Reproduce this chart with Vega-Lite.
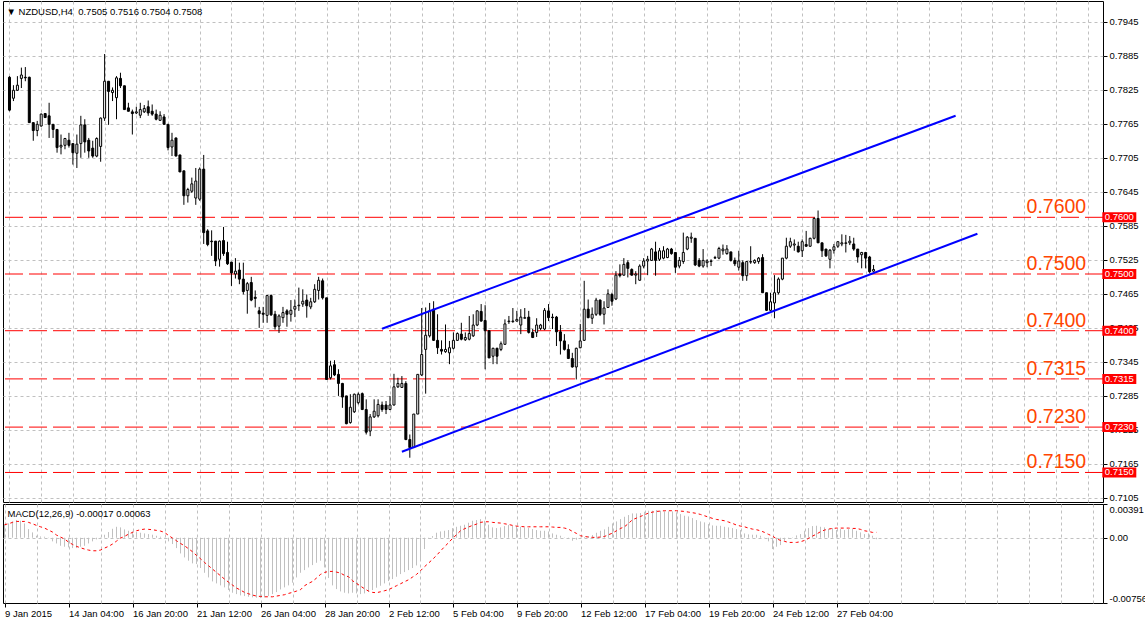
{
"$schema": "https://vega.github.io/schema/vega-lite/v6.json",
"padding": {"left": 2, "top": 0, "right": 0, "bottom": 0},
"background": "white",
"config": {
  "view": {"stroke": "black", "strokeWidth": 1},
  "font": "Liberation Sans",
  "axis": {"labelFont": "Liberation Sans", "labelFontSize": 9.5, "labelColor": "black", "tickColor": "black", "gridColor": "#c0c0c0", "gridDash": [3, 3], "gridWidth": 1, "domain": false, "title": null, "zindex": 0, "labelOverlap": false}
},
"datasets": {
"levels": [
{"p": 0.76, "t": "0.7600"}, {"p": 0.75, "t": "0.7500"}, {"p": 0.74, "t": "0.7400"}, {"p": 0.7315, "t": "0.7315"}, {"p": 0.723, "t": "0.7230"}, {"p": 0.715, "t": "0.7150"}
],
"channel": [
{"n": "up", "i": 94, "p": 0.74035}, {"n": "up", "i": 238.7, "p": 0.77792},
{"n": "lo", "i": 99, "p": 0.71866}, {"n": "lo", "i": 244.2, "p": 0.7571}
],
"bars": [
{"i":0,"o":0.7847,"h":0.7849,"l":0.7787,"c":0.7789,"m":0.00151,"s":0.00151},
{"i":1,"o":0.7810,"h":0.7833,"l":0.7805,"c":0.7824,"m":0.00166,"s":0.00162},
{"i":2,"o":0.7824,"h":0.7849,"l":0.7823,"c":0.7833,"m":0.00189,"s":0.00178},
{"i":3,"o":0.7845,"h":0.7864,"l":0.7828,"c":0.7851,"m":0.00205,"s":0.00189},
{"i":4,"o":0.7847,"h":0.7865,"l":0.7840,"c":0.7846,"m":0.00197,"s":0.00189},
{"i":5,"o":0.7847,"h":0.7848,"l":0.7767,"c":0.7767,"m":0.00166,"s":0.00189},
{"i":6,"o":0.7767,"h":0.7767,"l":0.7735,"c":0.7753,"m":0.00100,"s":0.00178},
{"i":7,"o":0.7753,"h":0.7770,"l":0.7743,"c":0.7764,"m":0.00062,"s":0.00162},
{"i":8,"o":0.7761,"h":0.7783,"l":0.7760,"c":0.7782,"m":0.00023,"s":0.00143},
{"i":9,"o":0.7783,"h":0.7784,"l":0.7775,"c":0.7776,"m":0.00015,"s":0.00127},
{"i":10,"o":0.7779,"h":0.7802,"l":0.7740,"c":0.7764,"m":0.00012,"s":0.00112},
{"i":11,"o":0.7764,"h":0.7764,"l":0.7740,"c":0.7755,"m":-0.00004,"s":0.00089},
{"i":12,"o":0.7755,"h":0.7755,"l":0.7714,"c":0.7723,"m":-0.00042,"s":0.00066},
{"i":13,"o":0.7724,"h":0.7746,"l":0.7711,"c":0.7727,"m":-0.00066,"s":0.00031},
{"i":14,"o":0.7727,"h":0.7740,"l":0.7720,"c":0.7739,"m":-0.00093,"s":0.00008},
{"i":15,"o":0.7736,"h":0.7749,"l":0.7723,"c":0.7727,"m":-0.00104,"s":-0.00015},
{"i":16,"o":0.7730,"h":0.7730,"l":0.7693,"c":0.7714,"m":-0.00112,"s":-0.00050},
{"i":17,"o":0.7713,"h":0.7746,"l":0.7687,"c":0.7729,"m":-0.00120,"s":-0.00077},
{"i":18,"o":0.7730,"h":0.7779,"l":0.7705,"c":0.7763,"m":-0.00120,"s":-0.00100},
{"i":19,"o":0.7763,"h":0.7773,"l":0.7714,"c":0.7733,"m":-0.00104,"s":-0.00116},
{"i":20,"o":0.7736,"h":0.7740,"l":0.7705,"c":0.7717,"m":-0.00093,"s":-0.00131},
{"i":21,"o":0.7722,"h":0.7735,"l":0.7705,"c":0.7708,"m":-0.00066,"s":-0.00143},
{"i":22,"o":0.7708,"h":0.7741,"l":0.7706,"c":0.7739,"m":-0.00042,"s":-0.00151},
{"i":23,"o":0.7725,"h":0.7776,"l":0.7698,"c":0.7775,"m":-0.00019,"s":-0.00151},
{"i":24,"o":0.7775,"h":0.7888,"l":0.7770,"c":0.7840,"m":0.00004,"s":-0.00143},
{"i":25,"o":0.7840,"h":0.7840,"l":0.7763,"c":0.7822,"m":0.00035,"s":-0.00120},
{"i":26,"o":0.7820,"h":0.7829,"l":0.7805,"c":0.7824,"m":0.00066,"s":-0.00100},
{"i":27,"o":0.7811,"h":0.7849,"l":0.7773,"c":0.7846,"m":0.00104,"s":-0.00073},
{"i":28,"o":0.7845,"h":0.7855,"l":0.7828,"c":0.7832,"m":0.00127,"s":-0.00039},
{"i":29,"o":0.7832,"h":0.7832,"l":0.7790,"c":0.7790,"m":0.00120,"s":-0.00004},
{"i":30,"o":0.7793,"h":0.7802,"l":0.7787,"c":0.7787,"m":0.00097,"s":0.00015},
{"i":31,"o":0.7786,"h":0.7790,"l":0.7746,"c":0.7783,"m":0.00081,"s":0.00042},
{"i":32,"o":0.7784,"h":0.7795,"l":0.7782,"c":0.7786,"m":0.00073,"s":0.00062},
{"i":33,"o":0.7780,"h":0.7802,"l":0.7775,"c":0.7790,"m":0.00066,"s":0.00081},
{"i":34,"o":0.7786,"h":0.7798,"l":0.7784,"c":0.7792,"m":0.00058,"s":0.00093},
{"i":35,"o":0.7795,"h":0.7806,"l":0.7779,"c":0.7784,"m":0.00050,"s":0.00100},
{"i":36,"o":0.7787,"h":0.7799,"l":0.7779,"c":0.7782,"m":0.00042,"s":0.00097},
{"i":37,"o":0.7782,"h":0.7790,"l":0.7771,"c":0.7773,"m":0.00035,"s":0.00093},
{"i":38,"o":0.7771,"h":0.7787,"l":0.7770,"c":0.7780,"m":0.00023,"s":0.00085},
{"i":39,"o":0.7777,"h":0.7782,"l":0.7764,"c":0.7764,"m":0.00012,"s":0.00077},
{"i":40,"o":0.7764,"h":0.7764,"l":0.7718,"c":0.7723,"m":-0.00012,"s":0.00062},
{"i":41,"o":0.7724,"h":0.7749,"l":0.7708,"c":0.7736,"m":-0.00042,"s":0.00027},
{"i":42,"o":0.7740,"h":0.7740,"l":0.7708,"c":0.7708,"m":-0.00073,"s":-0.00004},
{"i":43,"o":0.7710,"h":0.7710,"l":0.7680,"c":0.7680,"m":-0.00120,"s":-0.00035},
{"i":44,"o":0.7682,"h":0.7682,"l":0.7622,"c":0.7638,"m":-0.00182,"s":-0.00066},
{"i":45,"o":0.7638,"h":0.7652,"l":0.7626,"c":0.7649,"m":-0.00228,"s":-0.00093},
{"i":46,"o":0.7646,"h":0.7670,"l":0.7643,"c":0.7659,"m":-0.00266,"s":-0.00127},
{"i":47,"o":0.7634,"h":0.7687,"l":0.7622,"c":0.7664,"m":-0.00297,"s":-0.00162},
{"i":48,"o":0.7632,"h":0.7688,"l":0.7629,"c":0.7685,"m":-0.00305,"s":-0.00205},
{"i":49,"o":0.7685,"h":0.7710,"l":0.7553,"c":0.7573,"m":-0.00351,"s":-0.00243},
{"i":50,"o":0.7576,"h":0.7579,"l":0.7549,"c":0.7552,"m":-0.00406,"s":-0.00286},
{"i":51,"o":0.7558,"h":0.7577,"l":0.7532,"c":0.7557,"m":-0.00460,"s":-0.00324},
{"i":52,"o":0.7558,"h":0.7558,"l":0.7514,"c":0.7523,"m":-0.00506,"s":-0.00363},
{"i":53,"o":0.7526,"h":0.7559,"l":0.7513,"c":0.7558,"m":-0.00529,"s":-0.00402},
{"i":54,"o":0.7559,"h":0.7583,"l":0.7532,"c":0.7536,"m":-0.00552,"s":-0.00440},
{"i":55,"o":0.7538,"h":0.7557,"l":0.7516,"c":0.7518,"m":-0.00575,"s":-0.00479},
{"i":56,"o":0.7521,"h":0.7521,"l":0.7479,"c":0.7502,"m":-0.00606,"s":-0.00514},
{"i":57,"o":0.7500,"h":0.7528,"l":0.7492,"c":0.7505,"m":-0.00637,"s":-0.00548},
{"i":58,"o":0.7507,"h":0.7520,"l":0.7482,"c":0.7491,"m":-0.00653,"s":-0.00583},
{"i":59,"o":0.7491,"h":0.7520,"l":0.7464,"c":0.7469,"m":-0.00668,"s":-0.00606},
{"i":60,"o":0.7471,"h":0.7486,"l":0.7430,"c":0.7483,"m":-0.00676,"s":-0.00633},
{"i":61,"o":0.7485,"h":0.7495,"l":0.7452,"c":0.7454,"m":-0.00684,"s":-0.00649},
{"i":62,"o":0.7459,"h":0.7471,"l":0.7441,"c":0.7457,"m":-0.00691,"s":-0.00664},
{"i":63,"o":0.7435,"h":0.7442,"l":0.7405,"c":0.7430,"m":-0.00695,"s":-0.00676},
{"i":64,"o":0.7431,"h":0.7442,"l":0.7414,"c":0.7429,"m":-0.00699,"s":-0.00680},
{"i":65,"o":0.7427,"h":0.7463,"l":0.7414,"c":0.7462,"m":-0.00691,"s":-0.00684},
{"i":66,"o":0.7462,"h":0.7464,"l":0.7426,"c":0.7428,"m":-0.00676,"s":-0.00684},
{"i":67,"o":0.7429,"h":0.7435,"l":0.7402,"c":0.7407,"m":-0.00653,"s":-0.00684},
{"i":68,"o":0.7408,"h":0.7429,"l":0.7396,"c":0.7426,"m":-0.00630,"s":-0.00676},
{"i":69,"o":0.7423,"h":0.7442,"l":0.7414,"c":0.7432,"m":-0.00599,"s":-0.00668},
{"i":70,"o":0.7435,"h":0.7438,"l":0.7407,"c":0.7429,"m":-0.00575,"s":-0.00660},
{"i":71,"o":0.7429,"h":0.7454,"l":0.7416,"c":0.7436,"m":-0.00552,"s":-0.00645},
{"i":72,"o":0.7438,"h":0.7455,"l":0.7424,"c":0.7443,"m":-0.00521,"s":-0.00633},
{"i":73,"o":0.7444,"h":0.7476,"l":0.7435,"c":0.7445,"m":-0.00460,"s":-0.00618},
{"i":74,"o":0.7447,"h":0.7473,"l":0.7442,"c":0.7452,"m":-0.00406,"s":-0.00602},
{"i":75,"o":0.7454,"h":0.7464,"l":0.7423,"c":0.7444,"m":-0.00375,"s":-0.00556},
{"i":76,"o":0.7442,"h":0.7458,"l":0.7438,"c":0.7451,"m":-0.00344,"s":-0.00529},
{"i":77,"o":0.7451,"h":0.7482,"l":0.7449,"c":0.7473,"m":-0.00317,"s":-0.00506},
{"i":78,"o":0.7471,"h":0.7495,"l":0.7455,"c":0.7489,"m":-0.00290,"s":-0.00467},
{"i":79,"o":0.7488,"h":0.7492,"l":0.7455,"c":0.7458,"m":-0.00266,"s":-0.00425},
{"i":80,"o":0.7458,"h":0.7458,"l":0.7314,"c":0.7314,"m":-0.00344,"s":-0.00402},
{"i":81,"o":0.7317,"h":0.7347,"l":0.7314,"c":0.7338,"m":-0.00467,"s":-0.00390},
{"i":82,"o":0.7340,"h":0.7348,"l":0.7320,"c":0.7322,"m":-0.00552,"s":-0.00390},
{"i":83,"o":0.7323,"h":0.7332,"l":0.7285,"c":0.7307,"m":-0.00595,"s":-0.00398},
{"i":84,"o":0.7307,"h":0.7308,"l":0.7264,"c":0.7283,"m":-0.00622,"s":-0.00409},
{"i":85,"o":0.7285,"h":0.7285,"l":0.7235,"c":0.7236,"m":-0.00637,"s":-0.00436},
{"i":86,"o":0.7238,"h":0.7288,"l":0.7236,"c":0.7265,"m":-0.00645,"s":-0.00452},
{"i":87,"o":0.7257,"h":0.7289,"l":0.7255,"c":0.7288,"m":-0.00637,"s":-0.00498},
{"i":88,"o":0.7273,"h":0.7291,"l":0.7270,"c":0.7288,"m":-0.00645,"s":-0.00529},
{"i":89,"o":0.7289,"h":0.7291,"l":0.7260,"c":0.7261,"m":-0.00653,"s":-0.00560},
{"i":90,"o":0.7261,"h":0.7279,"l":0.7217,"c":0.7221,"m":-0.00645,"s":-0.00591},
{"i":91,"o":0.7223,"h":0.7253,"l":0.7214,"c":0.7248,"m":-0.00626,"s":-0.00618},
{"i":92,"o":0.7248,"h":0.7279,"l":0.7246,"c":0.7258,"m":-0.00606,"s":-0.00633},
{"i":93,"o":0.7250,"h":0.7279,"l":0.7247,"c":0.7270,"m":-0.00579,"s":-0.00637},
{"i":94,"o":0.7269,"h":0.7275,"l":0.7257,"c":0.7261,"m":-0.00556,"s":-0.00626},
{"i":95,"o":0.7269,"h":0.7276,"l":0.7253,"c":0.7261,"m":-0.00529,"s":-0.00614},
{"i":96,"o":0.7261,"h":0.7285,"l":0.7260,"c":0.7269,"m":-0.00502,"s":-0.00602},
{"i":97,"o":0.7269,"h":0.7324,"l":0.7268,"c":0.7301,"m":-0.00479,"s":-0.00579},
{"i":98,"o":0.7301,"h":0.7317,"l":0.7299,"c":0.7307,"m":-0.00452,"s":-0.00556},
{"i":99,"o":0.7300,"h":0.7320,"l":0.7299,"c":0.7307,"m":-0.00421,"s":-0.00533},
{"i":100,"o":0.7307,"h":0.7311,"l":0.7207,"c":0.7208,"m":-0.00398,"s":-0.00510},
{"i":101,"o":0.7208,"h":0.7217,"l":0.7176,"c":0.7194,"m":-0.00375,"s":-0.00487},
{"i":102,"o":0.7194,"h":0.7253,"l":0.7193,"c":0.7253,"m":-0.00351,"s":-0.00456},
{"i":103,"o":0.7253,"h":0.7323,"l":0.7253,"c":0.7323,"m":-0.00321,"s":-0.00425},
{"i":104,"o":0.7322,"h":0.7440,"l":0.7320,"c":0.7358,"m":-0.00247,"s":-0.00382},
{"i":105,"o":0.7367,"h":0.7441,"l":0.7289,"c":0.7392,"m":-0.00131,"s":-0.00336},
{"i":106,"o":0.7391,"h":0.7449,"l":0.7388,"c":0.7435,"m":-0.00012,"s":-0.00294},
{"i":107,"o":0.7438,"h":0.7452,"l":0.7382,"c":0.7383,"m":0.00019,"s":-0.00251},
{"i":108,"o":0.7383,"h":0.7429,"l":0.7359,"c":0.7370,"m":0.00058,"s":-0.00205},
{"i":109,"o":0.7367,"h":0.7383,"l":0.7358,"c":0.7364,"m":0.00073,"s":-0.00154},
{"i":110,"o":0.7363,"h":0.7411,"l":0.7361,"c":0.7367,"m":0.00081,"s":-0.00104},
{"i":111,"o":0.7361,"h":0.7382,"l":0.7341,"c":0.7370,"m":0.00089,"s":-0.00058},
{"i":112,"o":0.7369,"h":0.7397,"l":0.7367,"c":0.7383,"m":0.00112,"s":-0.00008},
{"i":113,"o":0.7383,"h":0.7397,"l":0.7382,"c":0.7395,"m":0.00127,"s":0.00035},
{"i":114,"o":0.7394,"h":0.7414,"l":0.7383,"c":0.7385,"m":0.00139,"s":0.00081},
{"i":115,"o":0.7384,"h":0.7397,"l":0.7382,"c":0.7388,"m":0.00151,"s":0.00104},
{"i":116,"o":0.7385,"h":0.7426,"l":0.7383,"c":0.7395,"m":0.00174,"s":0.00124},
{"i":117,"o":0.7391,"h":0.7429,"l":0.7389,"c":0.7410,"m":0.00197,"s":0.00143},
{"i":118,"o":0.7410,"h":0.7436,"l":0.7408,"c":0.7435,"m":0.00205,"s":0.00158},
{"i":119,"o":0.7434,"h":0.7447,"l":0.7416,"c":0.7417,"m":0.00216,"s":0.00178},
{"i":120,"o":0.7418,"h":0.7445,"l":0.7332,"c":0.7400,"m":0.00197,"s":0.00185},
{"i":121,"o":0.7400,"h":0.7400,"l":0.7352,"c":0.7352,"m":0.00151,"s":0.00185},
{"i":122,"o":0.7355,"h":0.7370,"l":0.7341,"c":0.7369,"m":0.00120,"s":0.00178},
{"i":123,"o":0.7369,"h":0.7370,"l":0.7341,"c":0.7355,"m":0.00112,"s":0.00174},
{"i":124,"o":0.7367,"h":0.7381,"l":0.7364,"c":0.7377,"m":0.00120,"s":0.00170},
{"i":125,"o":0.7376,"h":0.7420,"l":0.7375,"c":0.7412,"m":0.00135,"s":0.00162},
{"i":126,"o":0.7416,"h":0.7426,"l":0.7412,"c":0.7417,"m":0.00147,"s":0.00154},
{"i":127,"o":0.7416,"h":0.7440,"l":0.7414,"c":0.7417,"m":0.00139,"s":0.00143},
{"i":128,"o":0.7417,"h":0.7435,"l":0.7416,"c":0.7420,"m":0.00135,"s":0.00135},
{"i":129,"o":0.7410,"h":0.7438,"l":0.7394,"c":0.7424,"m":0.00127,"s":0.00131},
{"i":130,"o":0.7422,"h":0.7440,"l":0.7422,"c":0.7423,"m":0.00120,"s":0.00127},
{"i":131,"o":0.7424,"h":0.7435,"l":0.7395,"c":0.7397,"m":0.00112,"s":0.00127},
{"i":132,"o":0.7397,"h":0.7403,"l":0.7387,"c":0.7388,"m":0.00100,"s":0.00127},
{"i":133,"o":0.7397,"h":0.7422,"l":0.7389,"c":0.7410,"m":0.00089,"s":0.00127},
{"i":134,"o":0.7404,"h":0.7412,"l":0.7401,"c":0.7410,"m":0.00081,"s":0.00127},
{"i":135,"o":0.7403,"h":0.7440,"l":0.7401,"c":0.7436,"m":0.00081,"s":0.00127},
{"i":136,"o":0.7435,"h":0.7447,"l":0.7417,"c":0.7423,"m":0.00073,"s":0.00127},
{"i":137,"o":0.7424,"h":0.7430,"l":0.7403,"c":0.7423,"m":0.00050,"s":0.00124},
{"i":138,"o":0.7424,"h":0.7426,"l":0.7373,"c":0.7398,"m":0.00035,"s":0.00120},
{"i":139,"o":0.7398,"h":0.7410,"l":0.7358,"c":0.7382,"m":0.00023,"s":0.00120},
{"i":140,"o":0.7382,"h":0.7394,"l":0.7365,"c":0.7367,"m":0.00004,"s":0.00112},
{"i":141,"o":0.7367,"h":0.7376,"l":0.7350,"c":0.7351,"m":-0.00008,"s":0.00100},
{"i":142,"o":0.7351,"h":0.7361,"l":0.7335,"c":0.7336,"m":-0.00035,"s":0.00073},
{"i":143,"o":0.7336,"h":0.7370,"l":0.7314,"c":0.7369,"m":-0.00023,"s":0.00050},
{"i":144,"o":0.7370,"h":0.7412,"l":0.7369,"c":0.7382,"m":-0.00008,"s":0.00023},
{"i":145,"o":0.7383,"h":0.7488,"l":0.7382,"c":0.7438,"m":0.00008,"s":0.00015},
{"i":146,"o":0.7438,"h":0.7455,"l":0.7422,"c":0.7423,"m":0.00019,"s":0.00008},
{"i":147,"o":0.7422,"h":0.7441,"l":0.7412,"c":0.7429,"m":0.00031,"s":0.00004},
{"i":148,"o":0.7429,"h":0.7458,"l":0.7426,"c":0.7454,"m":0.00058,"s":0.00004},
{"i":149,"o":0.7454,"h":0.7455,"l":0.7426,"c":0.7429,"m":0.00081,"s":0.00008},
{"i":150,"o":0.7429,"h":0.7452,"l":0.7411,"c":0.7440,"m":0.00097,"s":0.00015},
{"i":151,"o":0.7441,"h":0.7473,"l":0.7440,"c":0.7465,"m":0.00127,"s":0.00035},
{"i":152,"o":0.7464,"h":0.7467,"l":0.7444,"c":0.7452,"m":0.00166,"s":0.00054},
{"i":153,"o":0.7456,"h":0.7505,"l":0.7454,"c":0.7498,"m":0.00189,"s":0.00081},
{"i":154,"o":0.7500,"h":0.7517,"l":0.7494,"c":0.7497,"m":0.00216,"s":0.00108},
{"i":155,"o":0.7498,"h":0.7528,"l":0.7497,"c":0.7517,"m":0.00243,"s":0.00127},
{"i":156,"o":0.7520,"h":0.7524,"l":0.7494,"c":0.7510,"m":0.00263,"s":0.00166},
{"i":157,"o":0.7508,"h":0.7510,"l":0.7497,"c":0.7498,"m":0.00282,"s":0.00209},
{"i":158,"o":0.7498,"h":0.7505,"l":0.7482,"c":0.7500,"m":0.00282,"s":0.00228},
{"i":159,"o":0.7489,"h":0.7517,"l":0.7488,"c":0.7514,"m":0.00286,"s":0.00247},
{"i":160,"o":0.7514,"h":0.7528,"l":0.7510,"c":0.7523,"m":0.00301,"s":0.00266},
{"i":161,"o":0.7523,"h":0.7532,"l":0.7498,"c":0.7526,"m":0.00313,"s":0.00286},
{"i":162,"o":0.7524,"h":0.7546,"l":0.7523,"c":0.7544,"m":0.00313,"s":0.00297},
{"i":163,"o":0.7539,"h":0.7557,"l":0.7497,"c":0.7524,"m":0.00321,"s":0.00305},
{"i":164,"o":0.7526,"h":0.7546,"l":0.7523,"c":0.7541,"m":0.00313,"s":0.00309},
{"i":165,"o":0.7528,"h":0.7549,"l":0.7526,"c":0.7541,"m":0.00305,"s":0.00313},
{"i":166,"o":0.7529,"h":0.7546,"l":0.7528,"c":0.7544,"m":0.00305,"s":0.00313},
{"i":167,"o":0.7544,"h":0.7546,"l":0.7534,"c":0.7536,"m":0.00305,"s":0.00313},
{"i":168,"o":0.7538,"h":0.7538,"l":0.7502,"c":0.7512,"m":0.00294,"s":0.00313},
{"i":169,"o":0.7514,"h":0.7530,"l":0.7510,"c":0.7524,"m":0.00274,"s":0.00309},
{"i":170,"o":0.7522,"h":0.7573,"l":0.7518,"c":0.7538,"m":0.00255,"s":0.00305},
{"i":171,"o":0.7544,"h":0.7567,"l":0.7542,"c":0.7565,"m":0.00247,"s":0.00297},
{"i":172,"o":0.7563,"h":0.7573,"l":0.7555,"c":0.7565,"m":0.00228,"s":0.00290},
{"i":173,"o":0.7563,"h":0.7563,"l":0.7514,"c":0.7516,"m":0.00205,"s":0.00282},
{"i":174,"o":0.7524,"h":0.7528,"l":0.7512,"c":0.7514,"m":0.00189,"s":0.00270},
{"i":175,"o":0.7514,"h":0.7544,"l":0.7511,"c":0.7524,"m":0.00178,"s":0.00255},
{"i":176,"o":0.7520,"h":0.7526,"l":0.7512,"c":0.7523,"m":0.00158,"s":0.00239},
{"i":177,"o":0.7522,"h":0.7526,"l":0.7514,"c":0.7523,"m":0.00143,"s":0.00224},
{"i":178,"o":0.7528,"h":0.7532,"l":0.7527,"c":0.7529,"m":0.00139,"s":0.00212},
{"i":179,"o":0.7528,"h":0.7548,"l":0.7526,"c":0.7545,"m":0.00139,"s":0.00205},
{"i":180,"o":0.7541,"h":0.7552,"l":0.7534,"c":0.7544,"m":0.00127,"s":0.00197},
{"i":181,"o":0.7536,"h":0.7551,"l":0.7534,"c":0.7544,"m":0.00120,"s":0.00182},
{"i":182,"o":0.7539,"h":0.7539,"l":0.7522,"c":0.7524,"m":0.00112,"s":0.00166},
{"i":183,"o":0.7524,"h":0.7529,"l":0.7514,"c":0.7518,"m":0.00100,"s":0.00147},
{"i":184,"o":0.7512,"h":0.7541,"l":0.7506,"c":0.7523,"m":0.00089,"s":0.00135},
{"i":185,"o":0.7520,"h":0.7524,"l":0.7488,"c":0.7497,"m":0.00050,"s":0.00127},
{"i":186,"o":0.7497,"h":0.7523,"l":0.7488,"c":0.7522,"m":0.00039,"s":0.00112},
{"i":187,"o":0.7521,"h":0.7549,"l":0.7518,"c":0.7522,"m":0.00035,"s":0.00100},
{"i":188,"o":0.7520,"h":0.7526,"l":0.7518,"c":0.7524,"m":0.00035,"s":0.00093},
{"i":189,"o":0.7522,"h":0.7530,"l":0.7518,"c":0.7528,"m":0.00023,"s":0.00081},
{"i":190,"o":0.7529,"h":0.7535,"l":0.7467,"c":0.7467,"m":0.00004,"s":0.00062},
{"i":191,"o":0.7467,"h":0.7467,"l":0.7435,"c":0.7436,"m":-0.00042,"s":0.00039},
{"i":192,"o":0.7436,"h":0.7467,"l":0.7435,"c":0.7451,"m":-0.00131,"s":0.00019},
{"i":193,"o":0.7449,"h":0.7498,"l":0.7422,"c":0.7467,"m":-0.00104,"s":-0.00012},
{"i":194,"o":0.7467,"h":0.7494,"l":0.7464,"c":0.7491,"m":-0.00085,"s":-0.00031},
{"i":195,"o":0.7491,"h":0.7528,"l":0.7489,"c":0.7528,"m":-0.00035,"s":-0.00042},
{"i":196,"o":0.7528,"h":0.7564,"l":0.7526,"c":0.7549,"m":-0.00012,"s":-0.00054},
{"i":197,"o":0.7549,"h":0.7564,"l":0.7546,"c":0.7557,"m":0.00004,"s":-0.00054},
{"i":198,"o":0.7551,"h":0.7561,"l":0.7541,"c":0.7553,"m":0.00027,"s":-0.00054},
{"i":199,"o":0.7549,"h":0.7557,"l":0.7538,"c":0.7539,"m":0.00042,"s":-0.00046},
{"i":200,"o":0.7541,"h":0.7561,"l":0.7530,"c":0.7557,"m":0.00081,"s":-0.00031},
{"i":201,"o":0.7552,"h":0.7576,"l":0.7548,"c":0.7549,"m":0.00112,"s":-0.00008},
{"i":202,"o":0.7549,"h":0.7564,"l":0.7548,"c":0.7563,"m":0.00135,"s":0.00019},
{"i":203,"o":0.7563,"h":0.7600,"l":0.7561,"c":0.7598,"m":0.00139,"s":0.00042},
{"i":204,"o":0.7598,"h":0.7612,"l":0.7555,"c":0.7555,"m":0.00127,"s":0.00070},
{"i":205,"o":0.7555,"h":0.7555,"l":0.7530,"c":0.7541,"m":0.00120,"s":0.00089},
{"i":206,"o":0.7544,"h":0.7544,"l":0.7530,"c":0.7532,"m":0.00100,"s":0.00100},
{"i":207,"o":0.7526,"h":0.7544,"l":0.7510,"c":0.7542,"m":0.00112,"s":0.00108},
{"i":208,"o":0.7542,"h":0.7553,"l":0.7536,"c":0.7548,"m":0.00089,"s":0.00112},
{"i":209,"o":0.7549,"h":0.7558,"l":0.7546,"c":0.7557,"m":0.00100,"s":0.00112},
{"i":210,"o":0.7553,"h":0.7570,"l":0.7549,"c":0.7555,"m":0.00089,"s":0.00112},
{"i":211,"o":0.7554,"h":0.7569,"l":0.7538,"c":0.7555,"m":0.00100,"s":0.00112},
{"i":212,"o":0.7555,"h":0.7567,"l":0.7551,"c":0.7558,"m":0.00100,"s":0.00108},
{"i":213,"o":0.7553,"h":0.7564,"l":0.7541,"c":0.7544,"m":0.00081,"s":0.00108},
{"i":214,"o":0.7544,"h":0.7544,"l":0.7520,"c":0.7530,"m":0.00062,"s":0.00097},
{"i":215,"o":0.7534,"h":0.7539,"l":0.7510,"c":0.7538,"m":0.00042,"s":0.00081},
{"i":216,"o":0.7538,"h":0.7539,"l":0.7510,"c":0.7528,"m":0.00050,"s":0.00073},
{"i":217,"o":0.7530,"h":0.7532,"l":0.7502,"c":0.7504,"m":0.00023,"s":0.00062},
{"i":218,"o":0.7505,"h":0.7516,"l":0.7504,"c":0.7508,"m":-0.00017,"s":0.00063}
]
},
"spacing": 2,
"bounds": "flush",
"vconcat": [
{
  "width": 1100,
  "height": 501,
  "title": {"text": "\u25bc NZDUSD,H4\u00a0\u00a00.7505 0.7516 0.7504 0.7508", "anchor": "start", "orient": "top", "offset": -25, "baseline": "bottom", "fontSize": 9.5, "fontWeight": "normal", "font": "Liberation Sans", "color": "black", "dx": 4},
  "layer": [
    {
      "data": {"name": "levels"},
      "mark": {"type": "rule", "color": "#ff0000", "strokeWidth": 1, "strokeDash": [18, 6]},
      "encoding": {
        "y": {"field": "p", "type": "quantitative", "scale": {"domain": [0.70979, 0.79815], "nice": false, "zero": false},
          "axis": {"orient": "right", "values": [0.7105, 0.7165, 0.7225, 0.7285, 0.7345, 0.7405, 0.7465, 0.7525, 0.7585, 0.7645, 0.7705, 0.7765, 0.7825, 0.7885, 0.7945], "tickCount": 100, "format": ".4f", "grid": true, "tickSize": 4, "labelPadding": 2, "labelOverlap": false}}
      }
    },
    {
      "mark": {"type": "rule", "color": "#c0c0c0", "strokeWidth": 1},
      "encoding": {"y": {"datum": 0.7508, "type": "quantitative", "scale": {"domain": [0.70979, 0.79815], "nice": false, "zero": false}}}
    },
    {
      "data": {"name": "bars"},
      "mark": {"type": "rule", "color": "black", "strokeWidth": 1},
      "encoding": {
        "x": {"field": "i", "type": "quantitative", "scale": {"domain": [-0.375, 274.625], "nice": false, "zero": false},
          "axis": {"orient": "bottom", "values": [0,8,16,24,32,40,48,56,64,72,80,88,96,104,112,120,128,136,144,152,160,168,176,184,192,200,208,216,224,232,240,248,256,264,272], "tickCount": 100, "grid": true, "labels": false, "ticks": false}},
        "y": {"field": "l", "type": "quantitative", "scale": {"domain": [0.70979, 0.79815], "nice": false, "zero": false}},
        "y2": {"field": "h"}
      }
    },
    {
      "data": {"name": "bars"},
      "mark": {"type": "bar", "width": 2, "stroke": "black", "strokeWidth": 1},
      "encoding": {
        "x": {"field": "i", "type": "quantitative", "scale": {"domain": [-0.375, 274.625], "nice": false, "zero": false}},
        "y": {"field": "o", "type": "quantitative", "scale": {"domain": [0.70979, 0.79815], "nice": false, "zero": false}},
        "y2": {"field": "c"},
        "fill": {"condition": {"test": "datum.c >= datum.o", "value": "white"}, "value": "black"}
      }
    },
    {
      "data": {"name": "channel"},
      "mark": {"type": "line", "color": "#0000ff", "strokeWidth": 2},
      "encoding": {
        "x": {"field": "i", "type": "quantitative", "scale": {"domain": [-0.375, 274.625], "nice": false, "zero": false}},
        "y": {"field": "p", "type": "quantitative", "scale": {"domain": [0.70979, 0.79815], "nice": false, "zero": false}},
        "detail": {"field": "n"}
      }
    },
    {
      "data": {"name": "levels"},
      "mark": {"type": "text", "align": "left", "baseline": "alphabetic", "dy": -4, "fontSize": 19.5, "font": "Liberation Sans", "color": "#ff4500"},
      "encoding": {
        "x": {"datum": 256.6, "type": "quantitative", "scale": {"domain": [-0.375, 274.625], "nice": false, "zero": false}},
        "y": {"field": "p", "type": "quantitative", "scale": {"domain": [0.70979, 0.79815], "nice": false, "zero": false}},
        "text": {"field": "t"}
      }
    },
    {
      "mark": {"type": "tick", "orient": "horizontal", "size": 34, "thickness": 10, "color": "black", "opacity": 1},
      "encoding": {
        "x": {"datum": 280, "type": "quantitative", "scale": {"domain": [-0.375, 274.625], "nice": false, "zero": false}},
        "y": {"datum": 0.7508, "type": "quantitative", "scale": {"domain": [0.70979, 0.79815], "nice": false, "zero": false}}
      }
    },
    {
      "mark": {"type": "text", "align": "center", "baseline": "middle", "fontSize": 9.5, "color": "white", "text": "0.7508"},
      "encoding": {
        "x": {"datum": 280, "type": "quantitative", "scale": {"domain": [-0.375, 274.625], "nice": false, "zero": false}},
        "y": {"datum": 0.7508, "type": "quantitative", "scale": {"domain": [0.70979, 0.79815], "nice": false, "zero": false}}
      }
    },
    {
      "data": {"name": "levels"},
      "mark": {"type": "tick", "orient": "horizontal", "size": 34, "thickness": 10, "color": "#ff0000", "opacity": 1},
      "encoding": {
        "x": {"datum": 280, "type": "quantitative", "scale": {"domain": [-0.375, 274.625], "nice": false, "zero": false}},
        "y": {"field": "p", "type": "quantitative", "scale": {"domain": [0.70979, 0.79815], "nice": false, "zero": false}}
      }
    },
    {
      "data": {"name": "levels"},
      "mark": {"type": "text", "align": "center", "baseline": "middle", "fontSize": 9.5, "color": "white"},
      "encoding": {
        "x": {"datum": 280, "type": "quantitative", "scale": {"domain": [-0.375, 274.625], "nice": false, "zero": false}},
        "y": {"field": "p", "type": "quantitative", "scale": {"domain": [0.70979, 0.79815], "nice": false, "zero": false}},
        "text": {"field": "t"}
      }
    },
    {
      "mark": {"type": "point", "shape": "triangle-down", "size": 45, "filled": true, "color": "#a0a0a0", "opacity": 1},
      "encoding": {
        "x": {"datum": 219.2, "type": "quantitative", "scale": {"domain": [-0.375, 274.625], "nice": false, "zero": false}},
        "y": {"datum": 0.7977, "type": "quantitative", "scale": {"domain": [0.70979, 0.79815], "nice": false, "zero": false}}
      }
    }
  ]
},
{
  "width": 1100,
  "height": 99,
  "title": {"text": "MACD(12,26,9) -0.00017 0.00063", "anchor": "start", "orient": "top", "offset": -25, "baseline": "bottom", "fontSize": 9.5, "fontWeight": "normal", "font": "Liberation Sans", "color": "black", "dx": 5},
  "data": {"name": "bars"},
  "layer": [
    {
      "mark": {"type": "rule", "color": "#c0c0c0", "strokeWidth": 1},
      "encoding": {
        "x": {"field": "i", "type": "quantitative", "scale": {"domain": [-0.375, 274.625], "nice": false, "zero": false},
          "axis": {"orient": "bottom", "values": [0,8,16,24,32,40,48,56,64,72,80,88,96,104,112,120,128,136,144,152,160,168,176,184,192,200,208,216,224,232,240,248,256,264,272], "tickCount": 100, "grid": true,
            "labelExpr": "datum.value % 16 == 0 ? (['9 Jan 2015','14 Jan 04:00','16 Jan 20:00','21 Jan 12:00','26 Jan 04:00','28 Jan 20:00','2 Feb 12:00','5 Feb 04:00','9 Feb 20:00','12 Feb 12:00','17 Feb 04:00','19 Feb 20:00','24 Feb 12:00','27 Feb 04:00'][datum.value / 16] || '') : ''",
            "labelAlign": "left", "labelBaseline": "top", "labelPadding": 1, "tickSize": 4, "labelFlush": false, "labelOverlap": false, "labelBound": false,
            "tickOpacity": {"condition": {"test": "datum.value % 16 == 0 && datum.value <= 208", "value": 1}, "value": 0}}},
        "y": {"field": "m", "type": "quantitative", "scale": {"domain": [-0.00756, 0.00391], "nice": false, "zero": false},
          "axis": {"orient": "right", "values": [0.00391, 0, -0.00756], "tickCount": 100, "labelExpr": "datum.value == 0 ? '0.00' : '' + datum.value", "labelFlush": true, "labelOverlap": false, "grid": true, "gridOpacity": {"condition": {"test": "datum.value == 0", "value": 1}, "value": 0}, "tickSize": 4, "labelPadding": 2}},
        "y2": {"datum": 0}
      }
    },
    {
      "mark": {"type": "line", "color": "#ff0000", "strokeWidth": 1, "strokeDash": [3, 3]},
      "encoding": {
        "x": {"field": "i", "type": "quantitative", "scale": {"domain": [-0.375, 274.625], "nice": false, "zero": false}},
        "y": {"field": "s", "type": "quantitative", "scale": {"domain": [-0.00756, 0.00391], "nice": false, "zero": false}}
      }
    }
  ]
}
]
}
